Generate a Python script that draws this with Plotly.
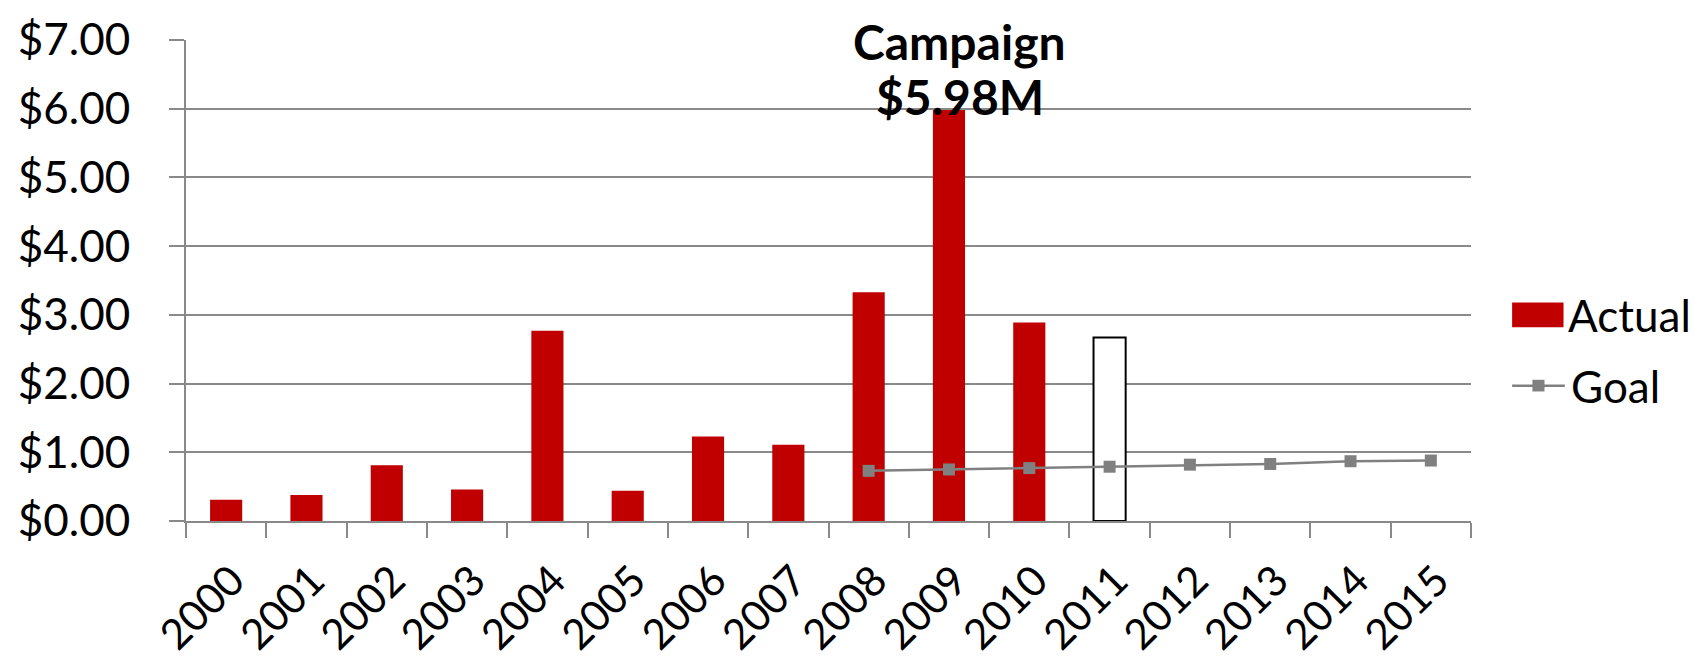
import plotly.graph_objects as go

years = [str(y) for y in range(2000, 2016)]
actual_years = ["2000", "2001", "2002", "2003", "2004", "2005", "2006", "2007",
                "2008", "2009", "2010", "2011"]
actual_values = [0.31, 0.38, 0.81, 0.46, 2.77, 0.44, 1.23, 1.11, 3.33, 5.98, 2.89, 2.67]
goal_years = ["2008", "2009", "2010", "2011", "2012", "2013", "2014", "2015"]
goal_values = [0.73, 0.75, 0.77, 0.79, 0.82, 0.83, 0.87, 0.88]
y_ticks = [0, 1, 2, 3, 4, 5, 6, 7]
y_tick_labels = ["$0.00", "$1.00", "$2.00", "$3.00", "$4.00", "$5.00", "$6.00", "$7.00"]
annotation_lines = ["Campaign", "$5.98M"]
legend_names = ["Actual", "Goal"]

RED = "#C00000"
GRAY = "#898989"
LINE_GRAY = "#808080"
FONT = "Lato"

fill_colors = [RED] * (len(actual_values) - 1) + ["#FFFFFF"]
edge_colors = [RED] * (len(actual_values) - 1) + ["#000000"]
edge_widths = [0] * (len(actual_values) - 1) + [2]

fig = go.Figure()
fig.add_trace(go.Bar(
    x=actual_years, y=actual_values, name=legend_names[0], showlegend=False,
    marker=dict(color=fill_colors, line=dict(color=edge_colors, width=edge_widths)),
))
fig.add_trace(go.Scatter(
    x=goal_years, y=goal_values, name=legend_names[1], mode="lines+markers",
    showlegend=False,
    line=dict(color=LINE_GRAY, width=2.5),
    marker=dict(symbol="square", size=12, color=LINE_GRAY),
))

# campaign annotation above the 2009 bar (two lines, tight spacing)
x_2009 = years.index("2009")
for text, yp in zip(annotation_lines, [1.060, 0.945]):
    fig.add_annotation(
        x=x_2009, y=yp, xref="x", yref="paper", text=text,
        showarrow=False, yanchor="top", xanchor="center", xshift=11,
        font=dict(family=FONT, size=48, color="#000000", weight="bold"),
    )

# manual legend (swatches drawn as shapes, labels as text)
fig.add_shape(type="rect", xref="paper", yref="y", x0=1.032, x1=1.072, y0=2.82, y1=3.18,
              fillcolor=RED, line=dict(width=0))
fig.add_annotation(x=1.074, y=3.0, xref="paper", yref="y", text=legend_names[0],
                   showarrow=False, xanchor="left", yanchor="middle",
                   font=dict(family=FONT, size=44, color="#000000"))
fig.add_shape(type="line", xref="paper", yref="y", x0=1.032, x1=1.073, y0=1.97, y1=1.97,
              line=dict(color=LINE_GRAY, width=2.5))
fig.add_shape(type="rect", xref="paper", yref="y", x0=1.0478, x1=1.0572, y0=1.885, y1=2.055,
              fillcolor=LINE_GRAY, line=dict(width=0))
fig.add_annotation(x=1.076, y=1.97, xref="paper", yref="y", text=legend_names[1],
                   showarrow=False, xanchor="left", yanchor="middle",
                   font=dict(family=FONT, size=44, color="#000000"))

fig.update_layout(
    width=1697, height=659,
    margin=dict(l=178, r=234, t=32, b=146),
    paper_bgcolor="white", plot_bgcolor="white",
    bargap=0.6,
    font=dict(family=FONT, size=44, color="#000000"),
    showlegend=False,
)
fig.update_xaxes(
    type="category", categoryorder="array", categoryarray=years,
    range=[-0.5, 15.5], tickangle=-45, automargin=False,
    showline=True, linecolor=GRAY, linewidth=2,
    ticks="outside", tickson="boundaries", ticklen=15, tickcolor=GRAY, tickwidth=2,
    showgrid=False, tickfont=dict(size=42), ticklabelstandoff=16, ticklabelshift=6,
)
fig.update_yaxes(
    range=[0, 7], tickvals=y_ticks, ticktext=y_tick_labels, automargin=False,
    showline=True, linecolor=GRAY, linewidth=2,
    ticks="outside", ticklen=15, tickcolor=GRAY, tickwidth=2,
    showgrid=True, gridcolor=GRAY, gridwidth=2, zeroline=False,
    ticklabelstandoff=30, tickfont=dict(size=44),
)

fig.write_html("out.html")
